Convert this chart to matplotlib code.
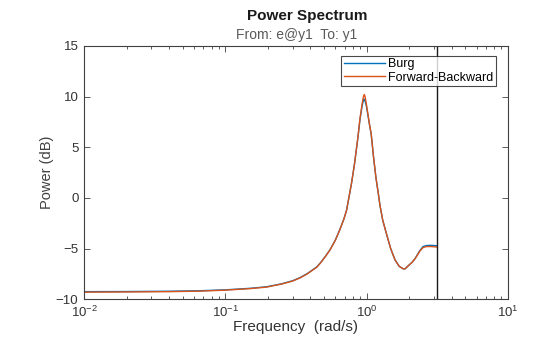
import matplotlib
matplotlib.use("Agg")
import matplotlib.pyplot as plt
from matplotlib.ticker import LogLocator, NullLocator, FixedLocator

plt.rcParams['font.family'] = ['Liberation Sans', 'DejaVu Sans']
plt.rcParams['mathtext.fontset'] = 'custom'
plt.rcParams['mathtext.rm'] = 'Liberation Sans'

# Frequencies (rad/s)
freq = [0.01, 0.02, 0.04, 0.066, 0.1, 0.15, 0.196, 0.25, 0.3, 0.337, 0.38,
        0.443, 0.473, 0.51, 0.55, 0.6, 0.644, 0.69, 0.722, 0.753, 0.781,
        0.82, 0.868, 0.897, 0.93, 0.95, 0.962, 0.975, 0.995, 1.026, 1.05,
        1.078, 1.12, 1.164, 1.208, 1.242, 1.3, 1.392, 1.48, 1.586, 1.7,
        1.815, 1.87, 1.97, 2.1, 2.2, 2.3, 2.38, 2.51, 2.65, 2.85, 3.0, 3.1416]

# Forward-Backward power (dB)
fb_db = [-9.3, -9.28, -9.25, -9.2, -9.1, -8.95, -8.8, -8.5, -8.2, -7.9, -7.5,
         -6.85, -6.4, -5.8, -5.15, -4.2, -3.2, -2.1, -1.2, 0.2, 1.4,
         3.3, 6.0, 7.8, 9.3, 10.0, 10.2, 10.0, 9.3, 8.1, 7.2,
         6.3, 4.0, 2.0, 0.5, -0.7, -2.2, -3.7, -5.0, -6.1, -6.75,
         -7.0, -7.0, -6.7, -6.35, -6.0, -5.6, -5.25, -4.9, -4.8, -4.8, -4.82, -4.85]

# Burg power (dB)
burg_db = [-9.25, -9.24, -9.21, -9.16, -9.07, -8.92, -8.77, -8.48, -8.17, -7.87, -7.47,
           -6.82, -6.38, -5.78, -5.13, -4.18, -3.18, -2.1, -1.2, 0.2, 1.4,
           3.3, 5.95, 7.7, 9.1, 9.65, 9.75, 9.55, 9.1, 8.0, 7.15,
           6.25, 4.0, 2.0, 0.5, -0.7, -2.2, -3.7, -5.0, -6.1, -6.75,
           -7.0, -7.0, -6.7, -6.35, -6.0, -5.55, -5.2, -4.8, -4.7, -4.68, -4.7, -4.72]

nyquist = 3.1416
yticks = [-10, -5, 0, 5, 10, 15]

axcol = '#404040'
txtcol = '#333333'

fig = plt.figure(figsize=(5.6, 3.37), dpi=100)
ax = fig.add_axes([0.15, 0.112, 0.757, 0.752])

ax.semilogx(freq, burg_db, color='#0072BD', lw=1.0, label='Burg')
ax.semilogx(freq, fb_db, color='#D95319', lw=1.0, label='Forward-Backward')
ax.axvline(nyquist, color='#1a1a1a', lw=1.0)

ax.set_xlim(0.01, 10)
ax.set_ylim(-10, 15)
ax.yaxis.set_major_locator(FixedLocator(yticks))
ax.yaxis.set_minor_locator(NullLocator())
ax.xaxis.set_major_locator(LogLocator(base=10, numticks=10))
ax.xaxis.set_minor_locator(LogLocator(base=10, subs=range(2, 10), numticks=10))

for s in ax.spines.values():
    s.set_color(axcol)
    s.set_linewidth(0.8)
ax.tick_params(which='both', direction='in', top=True, right=True,
               color=axcol, labelcolor=txtcol, labelsize=9.5)
ax.tick_params(axis='y', pad=4)
ax.tick_params(axis='x', pad=4)
ax.tick_params(which='major', length=4, width=0.6)
ax.tick_params(which='minor', length=2.5, width=0.6)

ax.set_xlabel('Frequency  (rad/s)', fontsize=11, color=txtcol, labelpad=0)
ax.set_ylabel('Power (dB)', fontsize=10.5, color='#404040', labelpad=1)

leg = ax.legend(loc='upper right', bbox_to_anchor=(0.972, 0.96),
                fontsize=9, frameon=True, fancybox=False,
                handlelength=3.3, handletextpad=0.25, borderpad=0.2,
                labelspacing=0.1, borderaxespad=0)
leg.get_frame().set_edgecolor('#1a1a1a')
leg.get_frame().set_linewidth(0.8)

fig.text(0.548, 0.953, 'Power Spectrum', ha='center', va='center',
         fontsize=11, fontweight='bold', color='#1a1a1a')
fig.text(0.53, 0.896, 'From: e@y1  To: y1', ha='center', va='center',
         fontsize=10, color='#5a5a5a')

fig.savefig('out.png', dpi=100)
